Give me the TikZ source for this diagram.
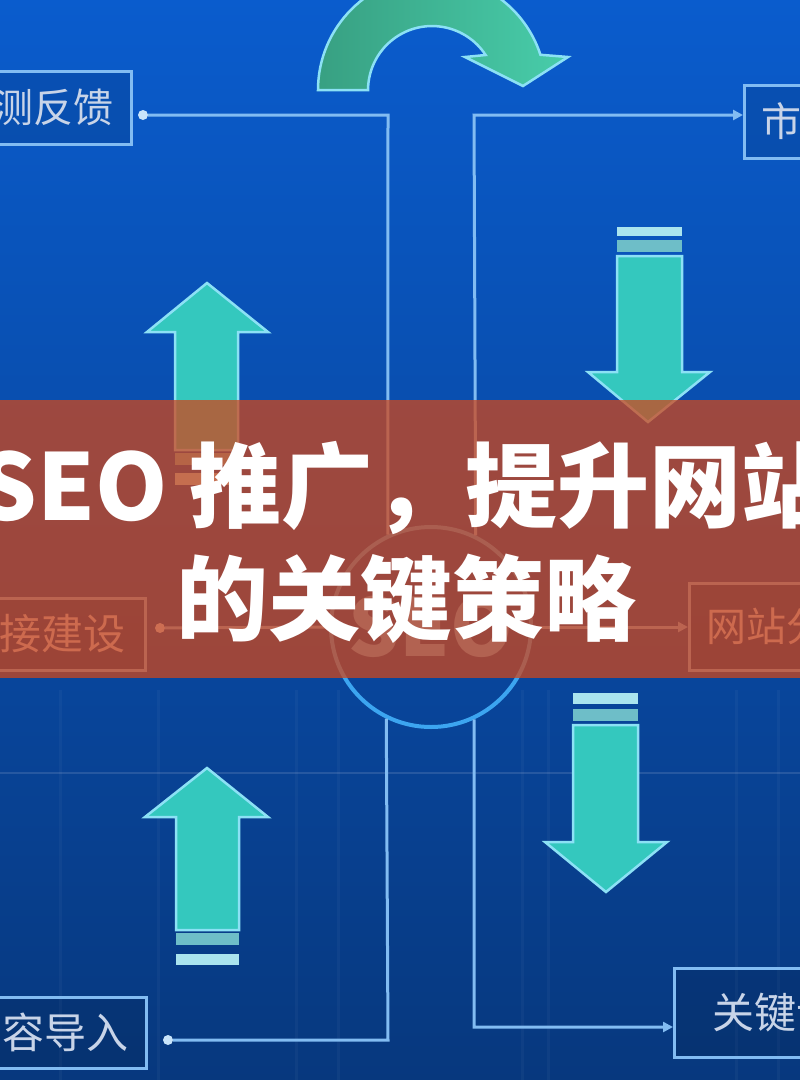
\documentclass[tikz,border=0pt]{standalone}
\usepackage{fontspec}
\newfontfamily\cjk{Noto Sans CJK SC}
\usetikzlibrary{arrows.meta}
\definecolor{bgtop}{RGB}{10,92,205}
\definecolor{bgmid}{RGB}{9,76,168}
\definecolor{bgbot}{RGB}{7,56,126}
\definecolor{wirecol}{RGB}{130,188,242}
\definecolor{dotcol}{RGB}{200,228,250}
\definecolor{arrowfill}{RGB}{52,200,190}
\definecolor{tealedge}{RGB}{140,225,245}
\definecolor{stripecol}{RGB}{170,228,238}
\definecolor{bandmid}{RGB}{110,190,200}
\definecolor{curveL}{RGB}{56,160,130}
\definecolor{curveR}{RGB}{72,205,170}
\definecolor{ringcol}{RGB}{60,165,240}
\definecolor{seocol}{RGB}{95,180,245}
\definecolor{bandcol}{RGB}{207,71,27}
\definecolor{labeltext}{RGB}{200,212,232}
\begin{document}
\begin{tikzpicture}[x=1pt,y=-1pt,
  wire/.style={draw=wirecol, line width=3pt},
  tip/.style={-{Triangle[length=10pt,width=10pt]}},
  dot/.style={circle, fill=dotcol, inner sep=0pt, minimum size=10pt},
  lbox/.style={draw=wirecol, line width=3pt, fill=black, fill opacity=0.1,
    text opacity=1, text=labeltext, font=\cjk\fontsize{40}{48}\selectfont,
    text width=200pt, inner ysep=0pt},
  bigtext/.style={font=\cjk\fontsize{42}{50}\selectfont},
  tarrow/.style={fill=arrowfill, draw=tealedge, line width=2.5pt, line join=miter},
  ring/.style={circle, draw=ringcol, line width=4pt, minimum size=200pt, inner sep=0pt,
    text=seocol, font=\cjk\bfseries\fontsize{80}{90}\selectfont},
  title/.style={text=white, inner sep=0pt, font=\cjk\bfseries\fontsize{92}{110}\selectfont}]
\useasboundingbox (0,0) rectangle (800,1080);
\clip (0,0) rectangle (800,1080);
% background
\shade[top color=bgtop, middle color=bgmid, bottom color=bgbot] (0,0) rectangle (800,1080);
\draw[white, opacity=0.12, line width=2pt] (0,773) -- (800,773);
\foreach \x in {60,158,296,338,522,548,736,778}
  \draw[white, opacity=0.035, line width=3pt] (\x,690) -- (\x,1080);

% boxes
\node[lbox, anchor=east, align=right, inner xsep=18pt, minimum height=73pt] (fb) at (133,107.5) {监测反馈};
\node[lbox, bigtext, anchor=east, align=right, inner xsep=20pt, minimum height=72pt] (lk) at (147,634) {链接建设};
\node[lbox, bigtext, anchor=east, align=right, inner xsep=18pt, minimum height=71pt] (ct) at (148,1032.5) {内容导入};
\node[lbox, anchor=west, align=left, inner xsep=17pt, minimum height=73pt] (mk) at (743,121.5) {市场分析};
\node[lbox, anchor=west, align=left, inner xsep=17pt, minimum height=87pt] (ws) at (688,626.5) {网站分析};
\node[lbox, bigtext, anchor=west, align=left, inner xsep=38pt, minimum height=89pt] (kw) at (673,1012.5) {关键词优化};

% hub
\node[ring] (seo) at (431,627) {SEO};

% connector points
\coordinate (vlT) at (388,115);
\coordinate (vlB) at (388,1040);
\coordinate (vrT) at (474,115);
\coordinate (vrB) at (474,1027);
\node[dot] (d1) at (143,115) {};
\node[dot] (d2) at (160,628) {};
\node[dot] (d3) at (168,1040) {};

% connectors
\draw[wire] (d1) -- (vlT) -- (seo.115.5);
\draw[wire] (seo.244.5) -- (vlB) -- (d3);
\draw[wire] (d2) -- (seo.west);
\draw[wire, tip] (seo.64.5) -- (vrT) -- (mk.west |- vrT);
\draw[wire, tip] (seo.east) -- (ws.west |- seo.east);
\draw[wire, tip] (seo.295.5) -- (vrB) -- (kw.west |- vrB);

% curved arrow
\draw[left color=curveL, right color=curveR, draw=tealedge, line width=2.5pt, line join=miter]
  (318,90) arc[start angle=180, end angle=342, radius=114]
  -- (568,57) -- (523,86) -- (465,57) -- (485.6,55)
  arc[start angle=326.8, end angle=180, radius=64] -- cycle;

% upper-left up arrow
\draw[tarrow] (207,283) -- (268,332) -- (238,332) -- (238,450) -- (175,450) -- (175,332) -- (147,332) -- cycle;
\fill[bandmid] (175,453) rectangle (238,465);
\fill[stripecol] (175,473) rectangle (238,485);
% lower-left up arrow
\draw[tarrow] (207,768) -- (268,817) -- (239,817) -- (239,930) -- (176,930) -- (176,817) -- (145,817) -- cycle;
\fill[bandmid] (176,933) rectangle (239,945);
\fill[stripecol] (176,954) rectangle (239,965);
% upper-right down arrow
\fill[stripecol] (617,227) rectangle (682,236);
\fill[bandmid] (617,240) rectangle (682,252);
\draw[tarrow] (648,422) -- (710,372) -- (682,372) -- (682,256) -- (617,256) -- (617,372) -- (588,372) -- cycle;
% lower-right down arrow
\fill[stripecol] (573,693) rectangle (638,704);
\fill[bandmid] (573,709) rectangle (638,721);
\draw[tarrow] (606,892) -- (667,842) -- (638,842) -- (638,725) -- (573,725) -- (573,842) -- (545,842) -- cycle;

% red band with title
\fill[bandcol, opacity=0.75] (0,400) rectangle (800,678);
\node[title, anchor=base] (t1) at (406,520) {SEO 推广，提升网站};
\node[title, anchor=base] (t2) at (406,633) {的关键策略};
\end{tikzpicture}
\end{document}
